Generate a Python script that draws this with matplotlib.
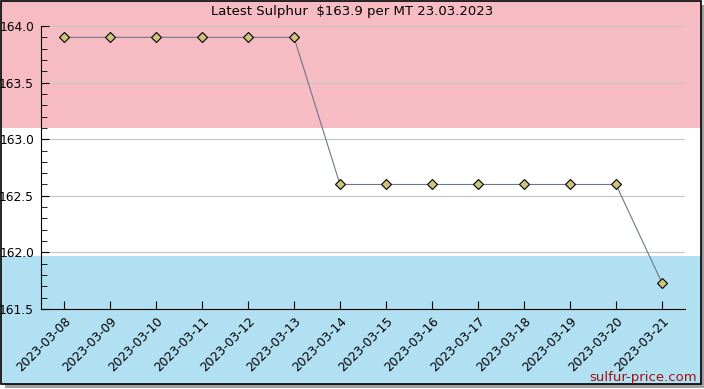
import matplotlib
matplotlib.use('Agg')
import matplotlib.pyplot as plt
from matplotlib.patches import Rectangle
from matplotlib import transforms
from matplotlib.ticker import MultipleLocator

fechas = ['2023-03-08', '2023-03-09', '2023-03-10', '2023-03-11', '2023-03-12',
          '2023-03-13', '2023-03-14', '2023-03-15', '2023-03-16', '2023-03-17',
          '2023-03-18', '2023-03-19', '2023-03-20', '2023-03-21']
precios = [163.9, 163.9, 163.9, 163.9, 163.9, 163.9,
           162.6, 162.6, 162.6, 162.6, 162.6, 162.6, 162.6, 161.73]
banda_alta = 163.1
banda_baja = 161.97
titulo = 'Latest Sulphur  $163.9 per MT 23.03.2023'

W, H = 704, 389
fig = plt.figure(figsize=(W / 100, H / 100), dpi=100)
fig.patch.set_facecolor('white')

# marco con sombra
fx0, fy0, fx1, fy1 = 1 / W, 1 - 384 / H, 701 / W, 1 - 1 / H
sombra = Rectangle((fx0 + 4 / W, fy0 - 4 / H), fx1 - fx0, fy1 - fy0,
                   transform=fig.transFigure, facecolor='#a0a0a0', edgecolor='none', zorder=0)
marco = Rectangle((fx0, fy0), fx1 - fx0, fy1 - fy0, transform=fig.transFigure,
                  facecolor='white', edgecolor='none', zorder=0.5)
fig.patches.extend([sombra, marco])

ax = fig.add_axes([41 / W, 1 - 309 / H, (685 - 41) / W, (309 - 26) / H])
ax.set_facecolor('none')
ax.set_zorder(2)

# bandas de color en todo el marco
mixto = transforms.blended_transform_factory(fig.transFigure, ax.transData)
bandas = [(banda_alta, 200, '#f7bcc3'), (-200, banda_baja, '#b2e0f3')]
for y0, y1, col in bandas:
    r = Rectangle((fx0, y0), fx1 - fx0, y1 - y0, transform=mixto,
                  facecolor=col, edgecolor='none', zorder=1)
    r.set_clip_path(marco)
    fig.patches.append(r)
borde = Rectangle((fx0, fy0), fx1 - fx0, fy1 - fy0, transform=fig.transFigure,
                  facecolor='none', edgecolor='black', linewidth=1.2, zorder=3)
fig.patches.append(borde)

x = list(range(len(fechas)))
ax.plot(x, precios, color='#6b7889', linewidth=0.8, marker='D', markersize=5.5,
        markerfacecolor='#cbc67a', markeredgecolor='black', markeredgewidth=0.8, zorder=3)

ax.set_xlim(-0.5, len(fechas) - 0.5)
ax.set_ylim(161.5, 164.0)
ax.set_xticks(x)
ax.set_xticklabels(fechas, rotation=45, ha='right', rotation_mode='anchor', fontsize=8.8)
ax.yaxis.set_major_locator(MultipleLocator(0.5))
ax.yaxis.set_minor_locator(MultipleLocator(0.1))
ax.yaxis.set_major_formatter(matplotlib.ticker.FormatStrFormatter('%.1f'))
ax.tick_params(axis='y', which='both', direction='in', labelsize=8.8, pad=5)
ax.tick_params(axis='y', which='major', length=6)
ax.tick_params(axis='y', which='minor', length=4)
ax.tick_params(axis='x', direction='in', length=6, pad=4)
ax.grid(axis='y', color='#c8c8c8', linewidth=0.9)
ax.set_axisbelow(True)
for s in ['top', 'right']:
    ax.spines[s].set_visible(False)

fig.text(0.5, 1 - 12 / H, titulo, ha='center', va='center', fontsize=9.5)
fig.text(697 / W, 1 - 377 / H, 'sulfur-price.com', ha='right', va='center',
         fontsize=9.5, color='#a01010', zorder=4)

fig.savefig('out.png', dpi=100)
